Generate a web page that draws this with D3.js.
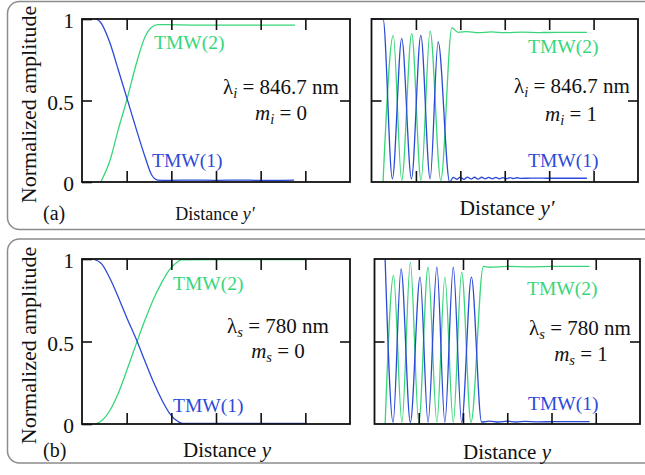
<!DOCTYPE html>
<html>
<head>
<meta charset="utf-8">
<script src="https://cdn.jsdelivr.net/npm/d3@7"></script>
<style>
body { margin: 0; background: #fff; }
svg { display: block; }
svg text { font-family: "Liberation Serif", "Times New Roman", "DejaVu Serif", serif !important; }
</style>
</head>
<body>
<script>
// tick values / labels
var xTicks = [1, 2, 3, 4, 5];
var yTickValues = [0, 0.5, 1];
var yTickLabels = ["0", "0.5", "1"];

// (a) m = 0 : idler, lambda 846.7 nm
var a0X1 = [0.31, 0.40, 0.63, 0.81, 1.01, 1.22, 1.41, 1.56, 1.70, 1.90, 2.5, 3.0, 3.5, 4.0, 4.75];
var a0Y1 = [1.0, 0.985, 0.85, 0.69, 0.51, 0.32, 0.155, 0.043, 0.012, 0.01, 0.012, 0.01, 0.012, 0.01, 0.012];
var a0X2 = [0.42, 0.63, 0.81, 1.01, 1.22, 1.41, 1.56, 1.70, 1.89, 2.5, 3.5, 4.77];
var a0Y2 = [0.0, 0.135, 0.32, 0.51, 0.73, 0.89, 0.95, 0.965, 0.965, 0.963, 0.963, 0.963];

// (a) m = 1
var a1X1 = [0, 0.26, 0.47, 0.68, 0.90, 1.11, 1.32, 1.50, 1.76, 1.84, 1.92, 2.0, 2.08, 2.16, 2.24, 2.32, 2.4, 2.48, 2.56, 2.64, 2.72, 2.8, 2.88, 2.96, 3.04, 3.12, 3.2, 3.28, 3.36, 3.6, 4.0, 4.5, 4.85];
var a1Y1 = [1.0, 1.0, 0.02, 0.88, 0.02, 0.90, 0.02, 0.86, 0.0, 0.028, 0.017, 0.03, 0.017, 0.03, 0.018, 0.029, 0.018, 0.029, 0.019, 0.028, 0.019, 0.028, 0.02, 0.027, 0.02, 0.027, 0.021, 0.026, 0.022, 0.024, 0.023, 0.023, 0.023];
var a1X2 = [0.26, 0.49, 0.68, 0.905, 1.115, 1.32, 1.56, 1.81, 1.95, 2.15, 2.4, 2.7, 3.0, 3.4, 3.8, 4.2, 4.85];
var a1Y2 = [0.0, 0.90, 0.01, 0.91, 0.01, 0.925, 0.01, 0.945, 0.918, 0.923, 0.916, 0.921, 0.916, 0.92, 0.917, 0.918, 0.918];

// (b) m = 0 : signal, lambda 780 nm
var b0X1 = [0.25, 0.44, 0.63, 0.81, 1.01, 1.22, 1.41, 1.59, 1.78, 1.96, 2.15, 2.25, 3.0, 4.0, 5.0];
var b0Y1 = [1.0, 0.97, 0.88, 0.77, 0.64, 0.51, 0.38, 0.26, 0.15, 0.065, 0.015, 0.004, 0.004, 0.004, 0.004];
var b0X2 = [0.29, 0.44, 0.63, 0.81, 1.01, 1.22, 1.41, 1.59, 1.78, 1.96, 2.15, 2.22, 3.0, 4.0, 5.0];
var b0Y2 = [0.0, 0.02, 0.085, 0.185, 0.33, 0.49, 0.63, 0.75, 0.855, 0.935, 0.985, 0.995, 0.997, 0.997, 0.997];

// (b) m = 1
var b1X1 = [0.24, 0.42, 0.60, 0.81, 1.03, 1.21, 1.41, 1.59, 1.78, 1.97, 2.19, 2.42, 2.6, 2.8, 3.0, 3.2, 3.4, 3.7, 4.1, 4.86];
var b1Y1 = [1.0, 0.01, 0.94, 0.01, 0.89, 0.01, 0.95, 0.01, 0.95, 0.01, 0.89, 0.012, 0.018, 0.012, 0.017, 0.012, 0.016, 0.013, 0.014, 0.014];
var b1X2 = [0.24, 0.43, 0.62, 0.81, 1.00, 1.21, 1.41, 1.59, 1.78, 1.97, 2.18, 2.46, 2.6, 3.0, 3.5, 4.0, 4.86];
var b1Y2 = [0.0, 0.90, 0.01, 0.98, 0.01, 0.95, 0.01, 0.89, 0.01, 0.92, 0.01, 0.955, 0.95, 0.955, 0.952, 0.955, 0.955];

var blue = "#2c4ad8", green = "#38d67a";
var serif = "'Liberation Serif', 'Times New Roman', 'DejaVu Serif', serif";

var width = 645, height = 475;

var svg = d3.select("body").append("svg")
    .attr("width", width)
    .attr("height", height)
    .attr("font-family", serif);

// rounded group boxes (right side runs off the page)
svg.append("rect").attr("x", 7.5).attr("y", 1.5).attr("width", 700).attr("height", 228)
    .attr("rx", 12).attr("fill", "none").attr("stroke", "#8c8c8c").attr("stroke-width", 1.5);
svg.append("rect").attr("x", 7.5).attr("y", 239).attr("width", 700).attr("height", 224)
    .attr("rx", 12).attr("fill", "none").attr("stroke", "#8c8c8c").attr("stroke-width", 1.5);

var panels = [
    {left: 82, right: 350, top: 19, bottom: 182, labels: true,
     s1: [a0X1, a0Y1], s2: [a0X2, a0Y2],
     t2: [154, 49], t1: [152, 167], lam: [281, 94], m: [281, 120],
     sym: "i", lamVal: "846.7 nm", mVal: "0", xl: [215, 220, 18], prime: true},
    {left: 371.5, right: 638, top: 19, bottom: 182, labels: false,
     s1: [a1X1, a1Y1], s2: [a1X2, a1Y2],
     t2: [528, 53], t1: [528, 167], lam: [572, 93], m: [571, 121],
     sym: "i", lamVal: "846.7 nm", mVal: "1", xl: [507, 215, 21.5], prime: true},
    {left: 82, right: 350, top: 259, bottom: 424, labels: true,
     s1: [b0X1, b0Y1], s2: [b0X2, b0Y2],
     t2: [173, 290], t1: [173, 412], lam: [278, 333], m: [278, 358],
     sym: "s", lamVal: "780 nm", mVal: "0", xl: [227, 457, 21], prime: false},
    {left: 374.5, right: 640, top: 259, bottom: 424, labels: false,
     s1: [b1X1, b1Y1], s2: [b1X2, b1Y2],
     t2: [527, 295], t1: [528, 410], lam: [580, 335], m: [581, 361],
     sym: "s", lamVal: "780 nm", mVal: "1", xl: [507, 459, 21], prime: false}
];

panels.forEach(function(p) {
    var x = d3.scaleLinear().domain([0, 6]).range([p.left, p.right]);
    var y = d3.scaleLinear().domain([0, 1]).range([p.bottom, p.top]);
    var g = svg.append("g");

    var line = d3.line()
        .x(function(d) { return x(d[0]); })
        .y(function(d) { return y(d[1]); })
        .curve(d3.curveMonotoneX);

    function pairs(s) { return s[0].map(function(v, i) { return [v, s[1][i]]; }); }

    g.append("path").datum(pairs(p.s2)).attr("d", line)
        .attr("fill", "none").attr("stroke", green).attr("stroke-width", 1.3);
    g.append("path").datum(pairs(p.s1)).attr("d", line)
        .attr("fill", "none").attr("stroke", blue).attr("stroke-width", 1.3);

    // inward ticks
    var axB = g.append("g").attr("transform", "translate(0," + p.bottom + ")")
        .call(d3.axisBottom(x).tickValues(xTicks).tickSize(-11).tickFormat(""));
    var axT = g.append("g").attr("transform", "translate(0," + p.top + ")")
        .call(d3.axisTop(x).tickValues(xTicks).tickSize(-11).tickFormat(""));
    var axR = g.append("g").attr("transform", "translate(" + p.right + ",0)")
        .call(d3.axisRight(y).tickValues([0.5]).tickSize(-10).tickFormat(""));
    var axL = g.append("g").attr("transform", "translate(" + p.left + ",0)")
        .call(d3.axisLeft(y).tickValues(p.labels ? yTickValues : [0.5]).tickSize(-10).tickPadding(8)
            .tickFormat(function(d, i) { return p.labels ? yTickLabels[i] : ""; }));
    [axB, axT, axR, axL].forEach(function(a) {
        a.attr("font-family", serif);
        a.select(".domain").remove();
        a.selectAll("line").attr("stroke", "#111").attr("stroke-width", 1.6);
    });
    axL.attr("font-size", 21.5);
    axL.selectAll("text").attr("fill", "#111").attr("dy", "0.4em");

    g.append("rect").attr("x", p.left).attr("y", p.top)
        .attr("width", p.right - p.left).attr("height", p.bottom - p.top)
        .attr("fill", "none").attr("stroke", "#111").attr("stroke-width", 1.8);

    // labels
    g.append("text").attr("x", p.t2[0]).attr("y", p.t2[1]).attr("font-size", 19.5)
        .attr("fill", green).text("TMW(2)");
    g.append("text").attr("x", p.t1[0]).attr("y", p.t1[1]).attr("font-size", 19.5)
        .attr("fill", blue).text("TMW(1)");

    var lt = g.append("text").attr("x", p.lam[0]).attr("y", p.lam[1])
        .attr("font-size", 21).attr("text-anchor", "middle").attr("fill", "#111");
    lt.append("tspan").text("\u03bb");
    lt.append("tspan").attr("font-size", 14.5).attr("font-style", "italic").attr("dy", 4).text(p.sym);
    lt.append("tspan").attr("dy", -4).text(" = " + p.lamVal);

    var mt = g.append("text").attr("x", p.m[0]).attr("y", p.m[1])
        .attr("font-size", 21).attr("text-anchor", "middle").attr("fill", "#111");
    mt.append("tspan").attr("font-style", "italic").text("m");
    mt.append("tspan").attr("font-size", 14.5).attr("font-style", "italic").attr("dy", 4).text(p.sym);
    mt.append("tspan").attr("dy", -4).text(" = " + p.mVal);

    var xt = g.append("text").attr("x", p.xl[0]).attr("y", p.xl[1])
        .attr("font-size", p.xl[2]).attr("text-anchor", "middle").attr("fill", "#111");
    xt.append("tspan").text("Distance ");
    xt.append("tspan").attr("font-style", "italic").text("y" + (p.prime ? "\u2032" : ""));

    if (p.labels) {
        svg.append("text").attr("transform", "translate(36," + ((p.top + p.bottom) / 2 + 4) + ") rotate(-90)")
            .attr("text-anchor", "middle").attr("font-size", 22).attr("fill", "#111").text("Normalized amplitude");
    }
});

svg.append("text").attr("x", 43).attr("y", 220).attr("font-size", 20).attr("fill", "#111").text("(a)");
svg.append("text").attr("x", 43).attr("y", 457).attr("font-size", 20).attr("fill", "#111").text("(b)");
</script>
</body>
</html>
